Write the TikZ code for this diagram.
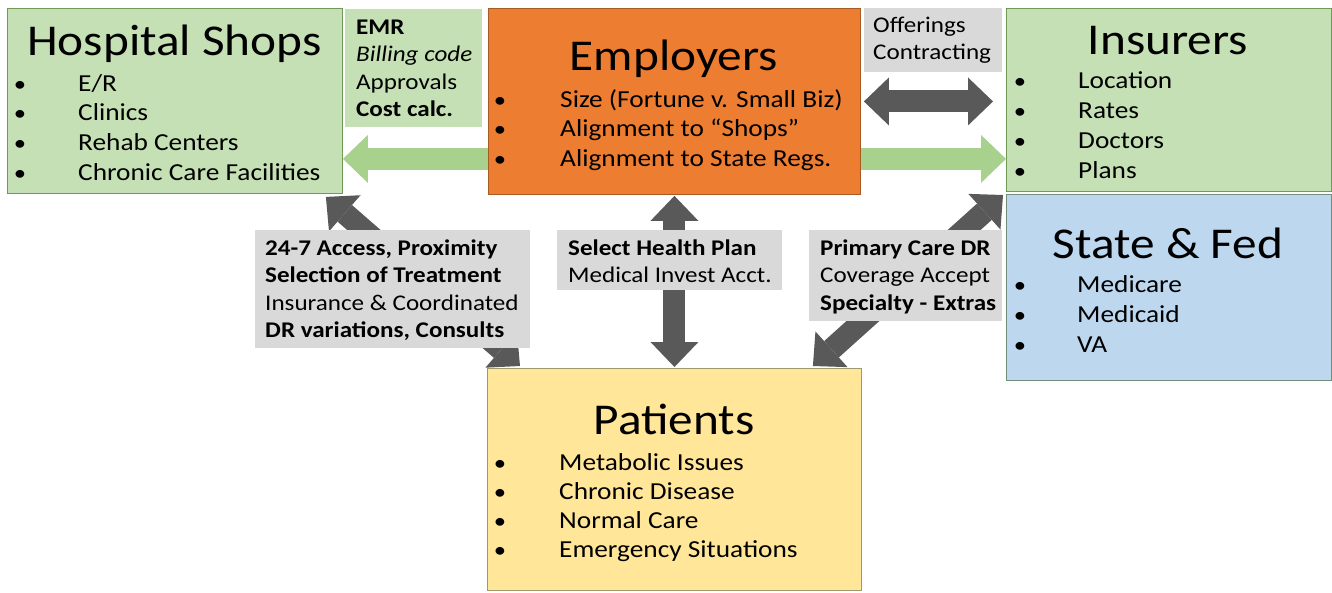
\documentclass[tikz,border=0pt]{standalone}
\usepackage{fontspec}
\setmainfont{Carlito}[FakeStretch=1.12]
\usetikzlibrary{arrows.meta,calc}
\definecolor{gfill}{HTML}{C5E0B4}
\definecolor{gline}{HTML}{6F9A56}
\definecolor{garrow}{HTML}{A9D18E}
\definecolor{ofill}{HTML}{ED7D31}
\definecolor{oline}{HTML}{A85A24}
\definecolor{bfill}{HTML}{BDD7EE}
\definecolor{bline}{HTML}{6F8F7A}
\definecolor{yfill}{HTML}{FFE699}
\definecolor{yline}{HTML}{9C9A70}
\definecolor{lfill}{HTML}{D9D9D9}
\definecolor{darrow}{HTML}{595959}
\newcommand\blist[6]{%
  \foreach \t [count=\i] in {#6} {
    \node[bul] (#1b\i) at ({#2},{#4+(\i-1)*#5}) {\textbullet};
    \node[itm] (#1t\i) at ({#3},{#4+(\i-1)*#5}) {\t};
  }}
\begin{document}
\begin{tikzpicture}[x=1pt,y=-1pt,
  >={Triangle[length=25pt 0 0,width=48pt 0 0,line width=0pt 0 0]},
  box/.style={anchor=north west,inner sep=0pt,line width=0.9pt},
  lblbox/.style={anchor=north west,inner sep=0pt,fill=lfill},
  ttl/.style={anchor=base,inner sep=0pt,font=\fontsize{44}{50}\selectfont},
  bul/.style={anchor=base,inner sep=0pt,font=\fontsize{22}{29}\selectfont},
  itm/.style={anchor=base west,inner sep=0pt,font=\fontsize{24.4}{29}\selectfont},
  lbl/.style={anchor=base west,inner sep=0pt,font=\fontsize{22.4}{27}\selectfont},
  garr/.style={draw=garrow,line width=22pt},
  darr/.style={draw=darrow,line width=22pt}]
\useasboundingbox (0,0) rectangle (1332,592);
% main boxes
\node[box,fill=gfill,draw=gline,minimum width=335pt,minimum height=185pt] (shops) at (7,8) {};
\node[box,fill=gfill,minimum width=137pt,minimum height=118pt] (emr) at (345,9) {};
\node[box,fill=ofill,draw=oline,minimum width=372pt,minimum height=186pt] (emp) at (488,8) {};
\node[lblbox,minimum width=138pt,minimum height=64pt] (offer) at (864,8) {};
\node[box,fill=gfill,draw=gline,minimum width=325pt,minimum height=183pt] (ins) at (1006,8) {};
\node[box,fill=bfill,draw=bline,minimum width=325pt,minimum height=186pt] (state) at (1006,194) {};
\node[box,fill=yfill,draw=yline,minimum width=374pt,minimum height=222pt] (pat) at (487,368) {};
% connectors
\coordinate (gl) at ([yshift=36pt]emp.south west);
\coordinate (gr) at ([yshift=36pt]emp.south east);
\draw[garr,->] (gl) -- (gl -| shops.east);
\draw[garr,->] (gr) -- (gr -| ins.west);
\coordinate (hl) at ($(emp.east)+(3,0)$);
\coordinate (hr) at ($(ins.west |- emp.east)+(-13,0)$);
\draw[darr,<->] (hl) -- (hr);
\coordinate (vt) at ($(emp.south)+(0,1)$);
\coordinate (vb) at ($(pat.north)+(0,-1)$);
\draw[darr,<->] (vt) -- (vb);
\coordinate (la) at ($(shops.south east)+(-17,3)$);
\coordinate (lb) at ($(pat.north west)+(33,-2)$);
\draw[darr,<->] (lb) -- (la);
\coordinate (ra) at ($(state.north west)+(-3,1)$);
\coordinate (rb) at ($(pat.north east)+(-49,-2)$);
\draw[darr,<->] (rb) -- (ra);
% label boxes
\node[lblbox,minimum width=275pt,minimum height=118pt] (l247) at (255,230) {};
\node[lblbox,minimum width=225pt,minimum height=60pt] (lsel) at (557,230) {};
\node[lblbox,minimum width=193pt,minimum height=91pt] (lpri) at (809,230) {};
% titles
\node[ttl] (shopsT) at (174.5,55) {Hospital Shops};
\node[ttl] (empT) at (674,70) {Employers};
\node[ttl] (insT) at (1168,54) {Insurers};
\node[ttl] (stateT) at (1168,258) {State \& Fed};
\node[ttl] (patT) at (674,434) {Patients};
% lists
\blist{shops}{20}{78}{91}{29.7}{E/R,Clinics,Rehab Centers,Chronic Care Facilities}
\blist{emp}{500}{560}{107}{29.5}{{Size (Fortune v. Small Biz)},{Alignment to “Shops”},{Alignment to State Regs.}}
\blist{ins}{1020}{1078}{88}{30}{Location,Rates,Doctors,Plans}
\blist{state}{1020}{1077}{292}{30}{Medicare,Medicaid,VA}
\blist{pat}{500}{559}{470}{29}{Metabolic Issues,Chronic Disease,Normal Care,Emergency Situations}
% label texts
\node[lbl] (emr1) at (356,34) {\bfseries EMR};
\node[lbl] (emr2) at (356,61.5) {\itshape Billing code};
\node[lbl] (emr3) at (356,89) {Approvals};
\node[lbl] (emr4) at (356,116) {\bfseries Cost calc.};
\node[lbl] (off1) at (873,32) {Offerings};
\node[lbl] (off2) at (873,59) {Contracting};
\node[lbl] (a1) at (265,255) {\bfseries 24-7 Access, Proximity};
\node[lbl] (a2) at (265,282.5) {\bfseries Selection of Treatment};
\node[lbl] (a3) at (265,310) {Insurance \& Coordinated};
\node[lbl] (a4) at (265,337.5) {\bfseries DR variations, Consults};
\node[lbl] (s1) at (568,255) {\bfseries Select Health Plan};
\node[lbl] (s2) at (568,282.5) {Medical Invest Acct.};
\node[lbl] (p1) at (820,255) {\bfseries Primary Care DR};
\node[lbl] (p2) at (820,282.5) {Coverage Accept};
\node[lbl] (p3) at (820,310) {\bfseries Specialty - Extras};
\end{tikzpicture}
\end{document}
